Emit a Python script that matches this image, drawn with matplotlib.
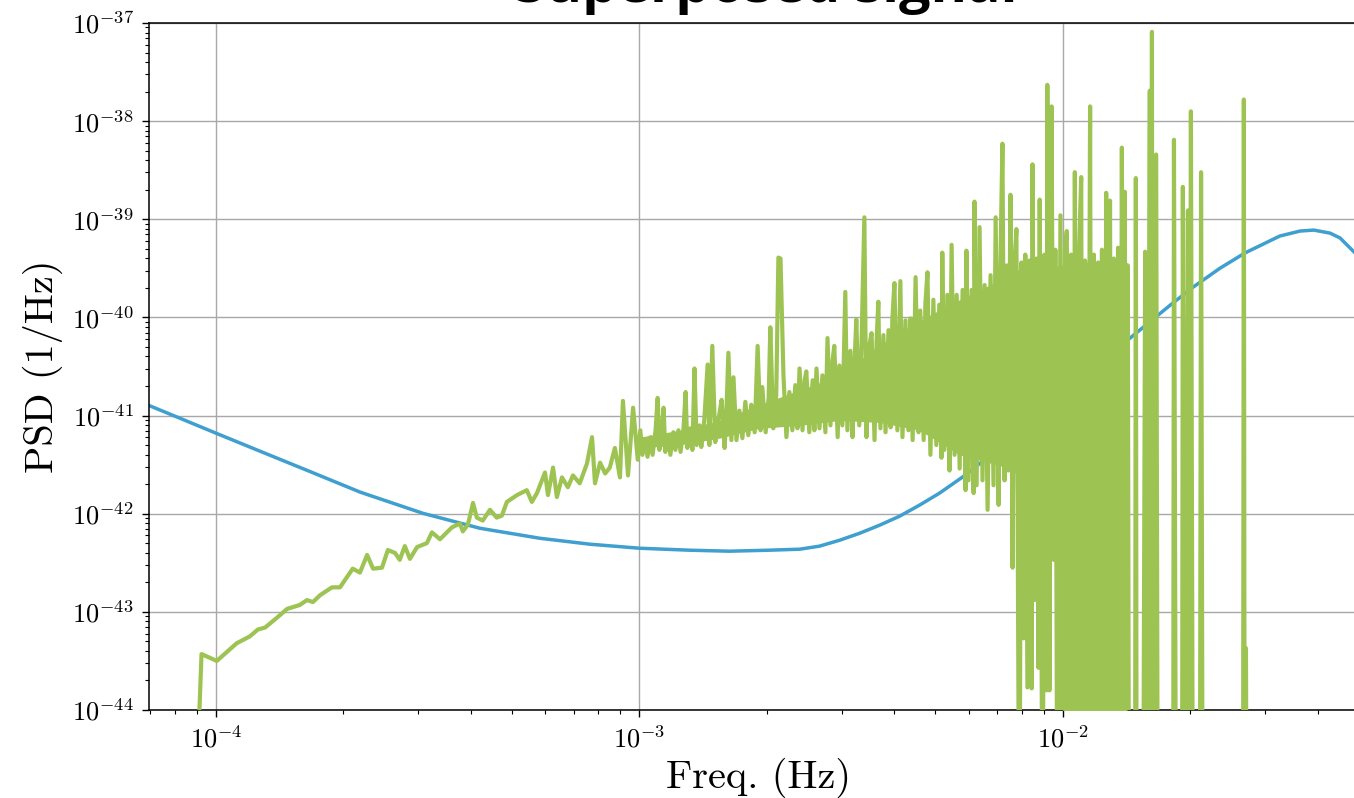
#PSD of the superposed signal vs the noise curve - log-log
import numpy as np
import matplotlib
matplotlib.use("Agg")
import matplotlib.pyplot as plt
from matplotlib.ticker import LogLocator, NullFormatter

# noise curve (blue)
noise_freq = [6.91e-5, 8.22e-5, 1.0e-4, 1.27e-4, 1.64e-4, 2.19e-4, 3.08e-4, 4.20e-4,
              5.82e-4, 7.64e-4, 1.0e-3, 1.31e-3, 1.63e-3, 2.03e-3, 2.39e-3, 2.66e-3,
              2.97e-3, 3.31e-3, 3.69e-3, 4.11e-3, 4.58e-3, 5.11e-3, 5.79e-3, 6.60e-3,
              7.47e-3, 8.34e-3, 1.0e-2, 1.22e-2, 1.43e-2, 1.59e-2, 1.79e-2, 2.03e-2,
              2.35e-2, 2.69e-2, 3.25e-2, 3.63e-2, 3.91e-2, 4.27e-2, 4.51e-2, 4.87e-2]
noise_psd = [1.28e-41, 9.4e-42, 6.62e-42, 4.34e-42, 2.77e-42, 1.66e-42, 1.01e-42, 7.11e-43,
             5.62e-43, 4.89e-43, 4.45e-43, 4.25e-43, 4.15e-43, 4.25e-43, 4.35e-43, 4.67e-43,
             5.37e-43, 6.32e-43, 7.64e-43, 9.42e-43, 1.22e-42, 1.62e-42, 2.36e-42, 3.68e-42,
             5.48e-42, 7.98e-42, 1.62e-41, 3.18e-41, 6.01e-41, 8.75e-41, 1.33e-40, 2.04e-40,
             3.18e-40, 4.54e-40, 6.75e-40, 7.59e-40, 7.76e-40, 7.23e-40, 6.45e-40, 4.63e-40]

# signal periodogram (green), log10(freq) and log10(psd), piece by piece along x
# -46 means "below the bottom of the plot"
sig_logf_a = [-4.052, -4.034, -3.998, -3.951, -3.920, -3.901, -3.884, -3.856, -3.832, -3.802,
              -3.785, -3.771, -3.754, -3.726, -3.707, -3.677, -3.660, -3.643, -3.629, -3.608,
              -3.594, -3.577, -3.566, -3.554, -3.542, -3.525, -3.502, -3.490, -3.471, -3.443,
              -3.424, -3.417, -3.405, -3.393, -3.384, -3.370, -3.353, -3.337, -3.325, -3.313,
              -3.289, -3.266, -3.254, -3.242, -3.223, -3.216, -3.204, -3.195, -3.183, -3.169,
              -3.157, -3.141, -3.124, -3.112, -3.105, -3.093, -3.081, -3.070, -3.058, -3.046,
              -3.039, -3.027, -3.015, -3.004]
sig_logp_a = [-45.5, -43.43, -43.50, -43.32, -43.25, -43.18, -43.16, -43.06, -42.97, -42.93,
              -42.88, -42.90, -42.83, -42.75, -42.75, -42.56, -42.60, -42.42, -42.56, -42.55,
              -42.37, -42.40, -42.47, -42.33, -42.46, -42.34, -42.30, -42.19, -42.26, -42.14,
              -42.10, -42.18, -42.11, -41.89, -42.04, -42.07, -41.96, -42.04, -42.02, -41.88,
              -41.81, -41.76, -41.88, -41.79, -41.58, -41.81, -41.53, -41.83, -41.63, -41.73,
              -41.61, -41.69, -41.49, -41.22, -41.69, -41.48, -41.59, -41.53, -41.33, -41.63,
              -40.85, -41.61, -40.92, -41.45]

sig_logf_b = [-2.998, -2.993, -2.986, -2.981, -2.974, -2.969, -2.962, -2.957, -2.953, -2.948,
              -2.943, -2.939, -2.932, -2.927, -2.920, -2.915, -2.908, -2.903, -2.896, -2.891,
              -2.887, -2.880, -2.875, -2.870, -2.865, -2.858]
sig_logp_b = [-41.15, -41.40, -41.25, -41.42, -41.22, -41.40, -41.15, -40.82, -41.35, -41.17,
              -40.92, -41.37, -41.22, -41.40, -41.17, -41.35, -41.15, -41.37, -41.13, -40.76,
              -41.33, -41.13, -41.35, -40.52, -41.30, -41.10]

sig_logf_c = [-2.854, -2.847, -2.839, -2.835, -2.828, -2.821, -2.813, -2.806, -2.799, -2.795,
              -2.790, -2.783, -2.778, -2.771, -2.764, -2.757, -2.750, -2.743, -2.736, -2.728,
              -2.721, -2.714, -2.710, -2.702, -2.695, -2.691, -2.684, -2.677, -2.672, -2.667,
              -2.660, -2.653, -2.646, -2.639, -2.632, -2.627, -2.622, -2.615, -2.610, -2.606,
              -2.599, -2.591, -2.587, -2.582, -2.575, -2.568, -2.561, -2.556, -2.549, -2.544,
              -2.540, -2.532, -2.528, -2.521, -2.514, -2.509, -2.502, -2.497, -2.492, -2.488,
              -2.481, -2.476, -2.469, -2.464, -2.457, -2.452, -2.445, -2.440, -2.436]
sig_logp_c = [-41.32, -41.05, -40.48, -41.30, -40.29, -41.27, -41.03, -40.84, -41.33, -41.00,
              -40.36, -41.25, -40.61, -41.25, -40.95, -41.23, -40.86, -41.20, -40.89, -41.17,
              -40.29, -41.15, -40.71, -41.17, -40.82, -40.10, -41.13, -40.79, -39.39, -39.40,
              -40.59, -41.22, -40.76, -41.15, -40.69, -41.13, -40.52, -41.15, -40.64, -40.55,
              -41.17, -40.64, -41.15, -40.52, -41.13, -40.59, -41.17, -40.21, -41.10, -40.44,
              -40.29, -41.22, -40.49, -41.10, -39.74, -41.15, -40.34, -41.22, -40.44, -40.02,
              -41.10, -40.33, -38.98, -41.22, -40.28, -40.16, -41.25, -40.23, -39.84]

sig_logf_d = [-2.431, -2.424, -2.419, -2.412, -2.407, -2.403, -2.398, -2.391, -2.384, -2.379,
              -2.372, -2.365, -2.360, -2.355, -2.348, -2.341, -2.337, -2.329, -2.325, -2.320,
              -2.313, -2.306, -2.299, -2.292, -2.287, -2.285, -2.280, -2.273, -2.268, -2.263,
              -2.256, -2.251, -2.244, -2.237, -2.230, -2.228, -2.223, -2.216, -2.211, -2.209,
              -2.204, -2.197, -2.190, -2.185, -2.178, -2.171, -2.164, -2.159, -2.152, -2.148,
              -2.143, -2.138, -2.133, -2.129, -2.124, -2.119]
sig_logp_d = [-41.13, -40.18, -41.17, -40.13, -41.12, -40.03, -39.65, -41.15, -39.63, -41.22,
              -40.03, -41.15, -40.01, -41.25, -39.59, -41.17, -39.93, -41.25, -39.87, -39.54,
              -41.40, -39.82, -41.30, -39.87, -41.43, -39.34, -41.35, -39.77, -41.56, -39.26,
              -41.40, -39.77, -41.54, -39.72, -41.76, -39.32, -41.66, -39.72, -41.79, -38.82,
              -41.71, -39.08, -41.66, -39.67, -41.96, -39.57, -41.71, -38.98, -41.91, -39.52,
              -38.23, -41.66, -39.47, -41.56, -38.75, -42.55]

sig_logf_e = [-2.115, -2.110, -2.103, -2.098, -2.093, -2.089, -2.084, -2.079, -2.074, -2.072,
              -2.067, -2.063, -2.058, -2.055, -2.048, -2.044, -2.039, -2.037, -2.032, -2.027,
              -2.022, -2.018, -2.013, -2.006, -2.000, -1.995, -1.991, -1.986, -1.981, -1.976,
              -1.972, -1.967, -1.962, -1.957, -1.953, -1.948, -1.943, -1.936, -1.932, -1.927,
              -1.922, -1.917, -1.913, -1.908, -1.903, -1.898, -1.894, -1.889, -1.884, -1.880,
              -1.875, -1.870, -1.865, -1.861, -1.856, -1.854, -1.851, -1.847, -1.844]
sig_logp_e = [-39.47, -39.10, -46.0, -39.44, -43.27, -39.36, -43.77, -39.42, -43.78, -38.44,
              -42.88, -39.40, -43.57, -38.80, -46.0, -39.36, -43.80, -37.63, -43.80, -37.85,
              -42.47, -39.31, -46.0, -38.96, -46.0, -39.31, -39.12, -46.0, -39.36, -46.0,
              -38.52, -46.0, -39.33, -38.57, -46.0, -39.42, -46.0, -37.85, -46.0, -39.36,
              -46.0, -39.44, -46.0, -39.31, -46.0, -38.73, -46.0, -38.81, -46.0, -39.40,
              -46.0, -39.29, -46.0, -38.27, -46.0, -38.72, -46.0, -39.47, -46.0]

# isolated lines above 1.4e-2 Hz
sig_logf_f = [-1.830, -1.828, -1.826, -1.811, -1.806, -1.802, -1.795, -1.792, -1.790, -1.788,
              -1.780, -1.776, -1.740, -1.738, -1.733, -1.719, -1.717, -1.712, -1.705, -1.702,
              -1.698, -1.693, -1.677, -1.674, -1.670, -1.575, -1.573, -1.571, -1.568, -1.566,
              -1.280]
sig_logp_f = [-46.0, -38.58, -46.0, -46.0, -39.33, -46.0, -37.69, -46.0, -37.09, -46.0,
              -38.34, -46.0, -46.0, -38.19, -46.0, -46.0, -38.67, -46.0, -38.91, -46.0,
              -37.90, -46.0, -46.0, -38.52, -46.0, -46.0, -37.78, -46.0, -43.37, -46.0,
              -47.0]

# solid core of the dense part of the periodogram (log10 values)
band_logf = [-3.000, -2.906, -2.811, -2.717, -2.622, -2.528, -2.433, -2.339,
             -2.244, -2.150, -2.119, -2.055, -2.003, -1.998, -1.849]
band_logp_lo = [-41.33, -41.30, -41.23, -41.13, -41.10, -41.05, -41.07, -41.15,
                -41.40, -41.51, -41.56, -41.86, -42.07, -46.0, -46.0]
band_logp_hi = [-41.22, -41.15, -41.05, -40.89, -40.74, -40.59, -40.28, -40.03,
                -39.82, -39.62, -39.52, -39.50, -39.47, -39.44, -39.44]

xtick_vals = [1e-4, 1e-3, 1e-2]
ytick_vals = [1e-44, 1e-43, 1e-42, 1e-41, 1e-40, 1e-39, 1e-38, 1e-37]

sig_freq = 10.0 ** np.concatenate([sig_logf_a, sig_logf_b, sig_logf_c,
                                   sig_logf_d, sig_logf_e, sig_logf_f])
sig_psd = 10.0 ** np.concatenate([sig_logp_a, sig_logp_b, sig_logp_c,
                                  sig_logp_d, sig_logp_e, sig_logp_f])

plt.rcParams['font.family'] = 'serif'
plt.rcParams['font.serif'] = ['cmr10']
plt.rcParams['mathtext.fontset'] = 'cm'
plt.rcParams['axes.unicode_minus'] = False
plt.rcParams['axes.formatter.use_mathtext'] = True

green = "#9dc452"
blue = "#3f9fcf"

fig = plt.figure(figsize=(13.54, 7.98), dpi=100)
# the axes run a little past the right edge of the figure, as in the original
ax = fig.add_axes([149 / 1354, 88 / 798, 1219 / 1354, 687 / 798])

ax.loglog(noise_freq, noise_psd, color=blue, lw=2.5, zorder=2)
ax.fill_between(10.0 ** np.array(band_logf), 10.0 ** np.array(band_logp_lo),
                10.0 ** np.array(band_logp_hi), color=green, lw=0, zorder=3)
ax.loglog(sig_freq, sig_psd, color=green, lw=3.0, zorder=3)

ax.set_xlim(6.95e-5, 5.25e-2)
ax.set_ylim(1e-44, 1e-37)
ax.set_xticks(xtick_vals)
ax.set_yticks(ytick_vals)

for axis in (ax.xaxis, ax.yaxis):
    axis.set_minor_locator(LogLocator(base=10, subs=np.arange(2, 10), numticks=200))
    axis.set_minor_formatter(NullFormatter())

ax.grid(True, which="major", color="#a8a8a8", lw=1.0)
ax.set_axisbelow(True)
ax.tick_params(which="major", direction="out", length=5, width=1, labelsize=19, pad=6)
ax.tick_params(which="minor", direction="out", length=3, width=0.8)
for sp in ax.spines.values():
    sp.set_linewidth(1.1)

ax.set_xlabel("Freq. (Hz)", fontsize=29, labelpad=4)
ax.set_ylabel("PSD (1/Hz)", fontsize=29, labelpad=6)

# title sits partly above the top edge of the figure
fig.text(766 / 1354, 1 - 2 / 798, "Superposed signal", ha="center", va="baseline",
         fontsize=40, fontweight="bold", family="Open Sans")

fig.savefig("out.png", dpi=100)
